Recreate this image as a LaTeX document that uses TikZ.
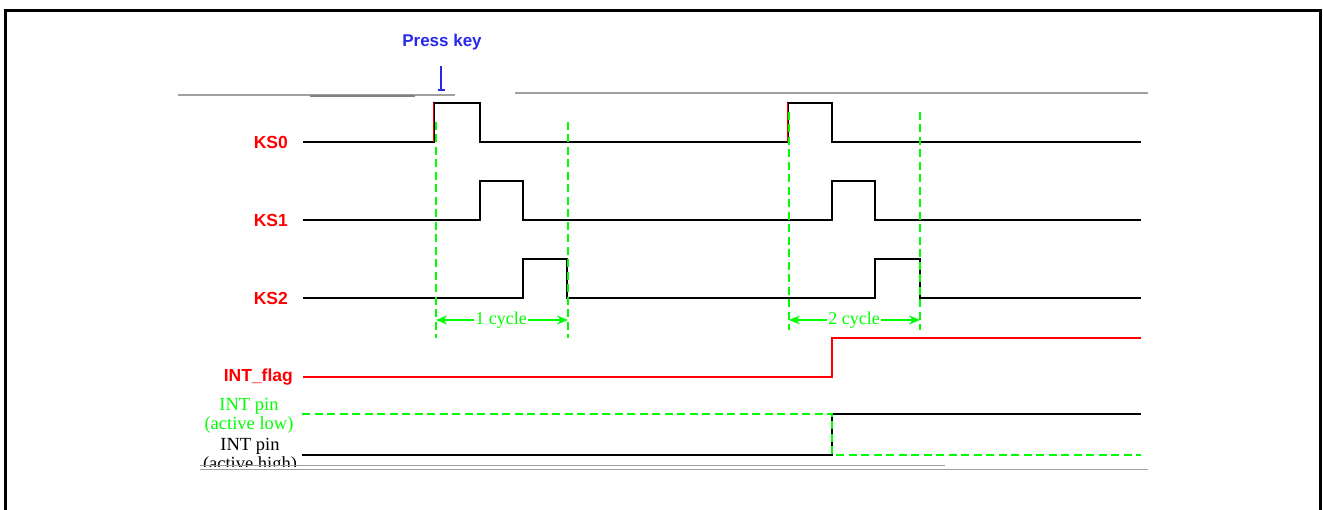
\documentclass[tikz,border=0pt]{standalone}
\usepackage{fontspec}
\setmainfont{Liberation Serif}
\setsansfont{Liberation Sans}
\usetikzlibrary{arrows.meta}
\definecolor{sgreen}{RGB}{0,255,0}
\definecolor{sred}{RGB}{255,0,0}
\definecolor{sblue}{RGB}{40,40,235}
\definecolor{sgray}{RGB}{160,160,160}
\tikzset{
  sig/.style={line width=1.7pt, black},
  redsig/.style={line width=1.7pt, sred},
  gdash/.style={line width=2.8pt, sgreen, dash pattern=on 8pt off 4.5pt},
  siglabel/.style={font=\sffamily\bfseries\fontsize{17.5}{17.5}\selectfont, text=sred, anchor=east, inner sep=0pt},
  pinlabel/.style={font=\fontsize{18.5}{19.5}\selectfont, align=center, inner sep=0pt},
  cyc/.style={line width=1.6pt, sgreen, {Stealth[length=11pt,width=9pt]}-{Stealth[length=11pt,width=9pt]}},
  cyclabel/.style={font=\fontsize{18}{18}\selectfont, text=sgreen, fill=white, inner sep=1.5pt},
  grayline/.style={line width=1.8pt, sgray},
}
\begin{document}
\begin{tikzpicture}[x=1pt,y=-1pt]
\useasboundingbox (0,0) rectangle (1323,510);
% frame
\draw[line width=3pt] (5.5,10.5) rectangle (1320,530);

% top gray lines
\draw[grayline] (178,95) -- (455,95);
\draw[line width=2.5pt, gray] (310,96) -- (415,96);
\draw[grayline] (515,93) -- (1148,93);

% press key
\node[font=\sffamily\bfseries\fontsize{17}{17}\selectfont, text=sblue, inner sep=0pt] (press) at (442,42) {Press key};
\coordinate (presstip) at (441,91);
\draw[line width=1.5pt, sblue, -{Bar[width=7pt,line width=2pt]}] (441,66) -- (presstip);

% labels
\node[siglabel] (ks0) at (288,142) {KS0};
\node[siglabel] (ks1) at (288,220) {KS1};
\node[siglabel] (ks2) at (288,298) {KS2};
\node[siglabel] (intf) at (293,377) {INT\_flag};
\node[pinlabel, text=sgreen] (pinlow) at (249,416) {INT pin\\(active low)};
\begin{scope}
\clip (150,430) rectangle (320,466);
\node[pinlabel, text=black] (pinhigh) at (250,456) {INT pin\\(active high)};
\end{scope}

% KS0
\draw[sig] (ks0.east) ++(15,0) -- (434,142) -- (434,103) -- (480,103) -- (480,142) -- (788,142) -- (788,103) -- (832,103) -- (832,142) -- (1141,142);
% KS1
\draw[sig] (ks1.east) ++(15,0) -- (480,220) -- (480,181) -- (523,181) -- (523,220) -- (832,220) -- (832,181) -- (875,181) -- (875,220) -- (1141,220);
% KS2
\draw[sig] (ks2.east) ++(15,0) -- (523,298) -- (523,259) -- (567,259) -- (567,298) -- (875,298) -- (875,259) -- (920,259) -- (920,298) -- (1141,298);
% red edges on rising
\draw[line width=1pt, sred] (433,142) -- (433,103);
\draw[line width=1pt, sred] (787,142) -- (787,103);

% INT_flag
\draw[redsig] (intf.east) ++(10,0) -- (832,377) -- (832,338) -- (1141,338);

% INT pin active high
\draw[sig] (302,455) -- (832,455) -- (832,414) -- (1141,414);
% INT pin active low
\draw[gdash] (302,414) -- (832,414) -- (832,455) -- (1141,455);

% cycle markers
\coordinate (c1a) at (436,320);
\coordinate (c1b) at (568,320);
\coordinate (c2a) at (789,320);
\coordinate (c2b) at (920,320);
\draw[gdash] (436,122) -- (436,338);
\draw[gdash] (568,122) -- (568,338);
\draw[gdash] (789,112) -- (789,330);
\draw[gdash] (920,112) -- (920,330);
\draw[cyc] (c1a) -- (c1b);
\draw[cyc] (c2a) -- (c2b);
\node[cyclabel] (cy1) at (501,320) {1 cycle};
\node[cyclabel] (cy2) at (854,320) {2 cycle};

% bottom gray lines
\draw[line width=1pt, sgray] (200,465) -- (945,465);
\draw[grayline] (200,469.5) -- (1148,469.5);
\end{tikzpicture}
\end{document}
